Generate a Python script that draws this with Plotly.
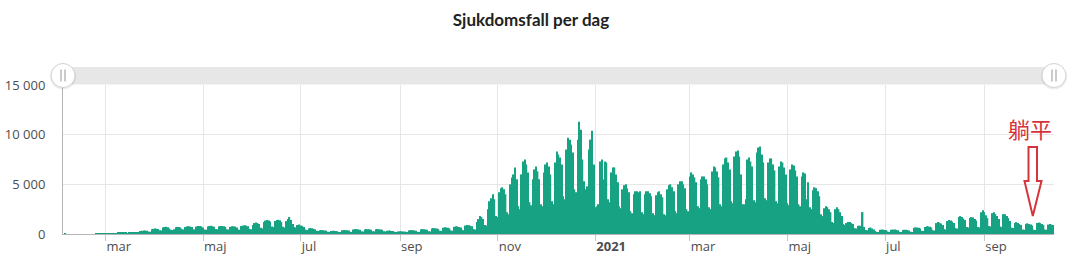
import pandas as pd
import plotly.graph_objects as go

# Daily cases, weekly rows Mon..Sun (first row starts Tue 2020-02-04)
cases_2020_spring = [
    0, 1, 0, 0, 0, 0,
    0, 0, 0, 0, 0, 0, 0,
    0, 0, 0, 0, 0, 0, 0,
    2, 3, 6, 8, 10, 6, 5,
    15, 20, 30, 40, 45, 30, 25,
    150, 170, 180, 170, 160, 110, 100,
    170, 190, 200, 190, 180, 130, 120,
    300, 330, 350, 340, 330, 250, 230,
    480, 520, 550, 530, 500, 380, 350,
    650, 700, 720, 680, 550, 420, 400,
    480, 680, 720, 700, 650, 470, 450,
    700, 760, 780, 750, 700, 480, 450,
    750, 800, 800, 770, 650, 450, 420,
    750, 800, 820, 780, 740, 500, 460,
    750, 800, 800, 780, 720, 480, 450,
    720, 780, 770, 750, 650, 450, 420,
    800, 850, 870, 830, 780, 520, 480,
]
cases_2020_summer = [
    900, 1100, 1150, 1100, 1000, 620, 560,
    1200, 1350, 1400, 1350, 1250, 750, 700,
    1300, 1400, 1430, 1380, 1200, 720, 650,
    1300, 1500, 1700, 1400, 1000, 700, 650,
    900, 950, 850, 800, 700, 450, 400,
    550, 600, 580, 520, 480, 320, 300,
    380, 400, 380, 360, 330, 220, 200,
    300, 320, 310, 290, 270, 180, 170,
    380, 400, 390, 370, 340, 220, 200,
    450, 500, 480, 460, 420, 280, 260,
    460, 500, 490, 470, 430, 280, 260,
    470, 500, 480, 460, 420, 270, 250,
    320, 340, 330, 310, 290, 190, 170,
    260, 280, 270, 260, 240, 160, 150,
    370, 400, 380, 360, 330, 220, 200,
    460, 500, 480, 450, 420, 270, 250,
    560, 600, 580, 550, 500, 330, 300,
]
cases_2020_autumn = [
    620, 670, 650, 620, 560, 360, 330,
    720, 770, 750, 700, 650, 420, 390,
    850, 900, 880, 830, 780, 500, 450,
    1200, 1500, 1800, 1700, 1500, 900, 850,
    2500, 3300, 3600, 4000, 3500, 1800, 1700,
    4200, 4600, 4700, 4500, 4000, 2200, 2000,
    5000, 5700, 6000, 6700, 5500, 2800, 2500,
    6000, 7300, 7500, 7000, 6200, 3200, 2900,
    5500, 6500, 6800, 6300, 5500, 3000, 2800,
    6200, 7000, 7200, 6800, 6000, 3300, 3000,
    7200, 8300, 8000, 7700, 7000, 3800, 3500,
    8500, 9700, 9500, 9000, 8200, 4500, 4200,
    9500, 11300, 10500, 7500, 5300, 4500, 4800,
]
cases_2021_winter = [
    8500, 9500, 10400, 7000, 2700, 2800, 3000,
    7300, 7500, 5500, 7300, 7200, 3500, 3200,
    6200, 6700, 6700, 6000, 5200, 2800, 2600,
    4500, 4900, 5000, 4600, 4200, 2300, 2100,
    4000, 4300, 4300, 4200, 4300, 2200, 2000,
    4000, 4300, 4300, 4100, 3800, 2100, 1900,
    3900, 4200, 4300, 4000, 3700, 2000, 1900,
    4500, 4900, 5000, 4700, 4300, 2300, 2100,
    5000, 5300, 5300, 5000, 4600, 2500, 2300,
    5800, 6200, 6000, 5700, 5200, 2800, 2600,
    5500, 5800, 5800, 5500, 5000, 2700, 2500,
    6300, 6800, 6700, 6300, 5700, 3000, 2800,
    7000, 7600, 7700, 7200, 6500, 3300, 3100,
]
cases_2021_spring = [
    7800, 8300, 8400, 7800, 6000, 3000, 3000,
    3500, 7500, 7700, 7300, 6800, 3400, 3200,
    8200, 8700, 8800, 8000, 7200, 3600, 3400,
    7200, 7600, 7600, 7000, 6400, 3300, 3100,
    6800, 7300, 7200, 6700, 6000, 3100, 2900,
    6500, 7000, 6900, 6400, 5800, 3000, 2800,
    5800, 6200, 6100, 3500, 5200, 2700, 2500,
    4400, 4700, 4600, 4300, 3800, 2000, 1800,
    2600, 2800, 2700, 2500, 2200, 1200, 1100,
    2500, 2700, 2500, 2200, 1800, 1000, 900,
    1100, 1200, 1200, 1100, 1000, 600, 550,
    800, 850, 800, 2200, 700, 400, 380,
    600, 650, 550, 450, 300, 200, 180,
]
cases_2021_summer = [
    420, 450, 430, 400, 380, 220, 200,
    430, 460, 450, 420, 380, 230, 210,
    400, 430, 420, 400, 360, 220, 200,
    600, 670, 650, 620, 560, 330, 300,
    700, 770, 760, 720, 650, 380, 350,
    1100, 1200, 1150, 1050, 900, 500, 450,
    1300, 1400, 1350, 1250, 1100, 600, 550,
    1700, 1800, 1700, 1550, 1400, 700, 650,
    1600, 1700, 1650, 1500, 1350, 700, 650,
    2200, 2400, 2200, 1900, 1600, 800, 750,
    2100, 2200, 2000, 1800, 1500, 750, 700,
    2000, 2000, 1800, 1600, 1300, 650, 600,
    1100, 1200, 1100, 1000, 900, 450, 420,
    1000, 1070, 1000, 950, 850, 430, 400,
    1100, 1170, 1100, 1000, 900, 450, 420,
    950, 1000, 950, 900,
]

start_date = "2020-02-04"
tick_dates = ["2020-03-01", "2020-05-01", "2020-07-01", "2020-09-01", "2020-11-01",
              "2021-01-01", "2021-03-01", "2021-05-01", "2021-07-01", "2021-09-01"]
tick_labels = ["mar", "maj", "jul", "sep", "nov", "<b>2021</b>", "mar", "maj", "jul", "sep"]
y_ticks = [0, 5000, 10000, 15000]

cases = (cases_2020_spring + cases_2020_summer + cases_2020_autumn
         + cases_2021_winter + cases_2021_spring + cases_2021_summer)
dates = pd.date_range(start_date, periods=len(cases), freq="D")

W, H = 1080, 269
L, R, T, B = 63, 1054, 85, 234


def px_x(p):
    return (p - L) / (R - L)


def px_y(p):
    return (B - p) / (B - T)


fig = go.Figure(go.Bar(
    x=dates, y=cases,
    marker=dict(color="#17a283", line=dict(width=0)),
    hoverinfo="x+y",
))

red = "#d5343c"
shapes = []
# scrollbar track
shapes.append(dict(type="rect", xref="paper", yref="paper", x0=0, x1=1,
                   y0=px_y(84.5), y1=px_y(67), fillcolor="#e7e7e7",
                   line=dict(width=0), layer="above"))
# handles
for hx in (0, 1):
    hy = px_y(75.5)
    shapes.append(dict(type="circle", xref="paper", yref="paper",
                       xsizemode="pixel", ysizemode="pixel", xanchor=hx, yanchor=hy,
                       x0=-13, x1=13, y0=-14, y1=12,
                       fillcolor="rgba(0,0,0,0.07)", line=dict(width=0), layer="above"))
    shapes.append(dict(type="circle", xref="paper", yref="paper",
                       xsizemode="pixel", ysizemode="pixel", xanchor=hx, yanchor=hy,
                       x0=-12, x1=12, y0=-12, y1=12,
                       fillcolor="white", line=dict(color="#d2d2d2", width=1), layer="above"))
    for dx in (-2, 2):
        shapes.append(dict(type="line", xref="paper", yref="paper",
                           xsizemode="pixel", ysizemode="pixel", xanchor=hx, yanchor=hy,
                           x0=dx, x1=dx, y0=-6, y1=6,
                           line=dict(color="#a8a8a8", width=1.2), layer="above"))
# red outline arrow
pts = [(1028.5, 147), (1037, 147), (1037, 181), (1041.5, 181), (1032.8, 216),
       (1024.5, 181), (1028.5, 181)]
path = "M " + " L ".join(f"{px_x(a):.5f},{px_y(b):.5f}" for a, b in pts) + " Z"
shapes.append(dict(type="path", xref="paper", yref="paper", path=path,
                   line=dict(color=red, width=2), fillcolor="rgba(0,0,0,0)", layer="above"))

fig.update_layout(
    width=W, height=H,
    margin=dict(l=L, r=W - R, t=T, b=H - B, autoexpand=False),
    paper_bgcolor="white", plot_bgcolor="white",
    separators=", ",
    bargap=0.12,
    showlegend=False,
    title=dict(text="<b>Sjukdomsfall per dag</b>", x=531 / W, xanchor="center",
               y=1 - 20 / H, yanchor="middle",
               font=dict(family="Lato", size=17, color="#222222")),
    font=dict(family="Open Sans", size=13, color="#4d4d4d"),
    shapes=shapes,
    annotations=[dict(text="躺平", xref="paper", yref="paper",
                      x=px_x(1030), y=px_y(128), showarrow=False,
                      xanchor="center", yanchor="middle",
                      font=dict(family="Noto Sans CJK SC", size=22, color=red))],
)
fig.update_xaxes(
    type="date",
    range=["2020-02-03 12:00", "2021-10-14 12:00"],
    tickvals=tick_dates, ticktext=tick_labels,
    ticklabelposition="outside right",
    ticks="outside", ticklen=6, tickcolor="#c8c8c8",
    showgrid=True, gridcolor="#e6e6e6", gridwidth=1,
    showline=True, linecolor="#b5b5b5", linewidth=1,
    tickfont=dict(family="Open Sans", size=13, color="#4d4d4d"),
    fixedrange=True, zeroline=False, automargin=False,
)
fig.update_yaxes(
    range=[0, 15000],
    tickvals=y_ticks, tickformat=",d",
    ticks="", ticklabelstandoff=14,
    showgrid=True, gridcolor="#e6e6e6", gridwidth=1,
    showline=True, linecolor="#b5b5b5", linewidth=1,
    zeroline=False,
    tickfont=dict(family="Open Sans", size=13, color="#4d4d4d"),
    fixedrange=True, automargin=False,
)

fig.write_html("out.html", config={"displayModeBar": False})
